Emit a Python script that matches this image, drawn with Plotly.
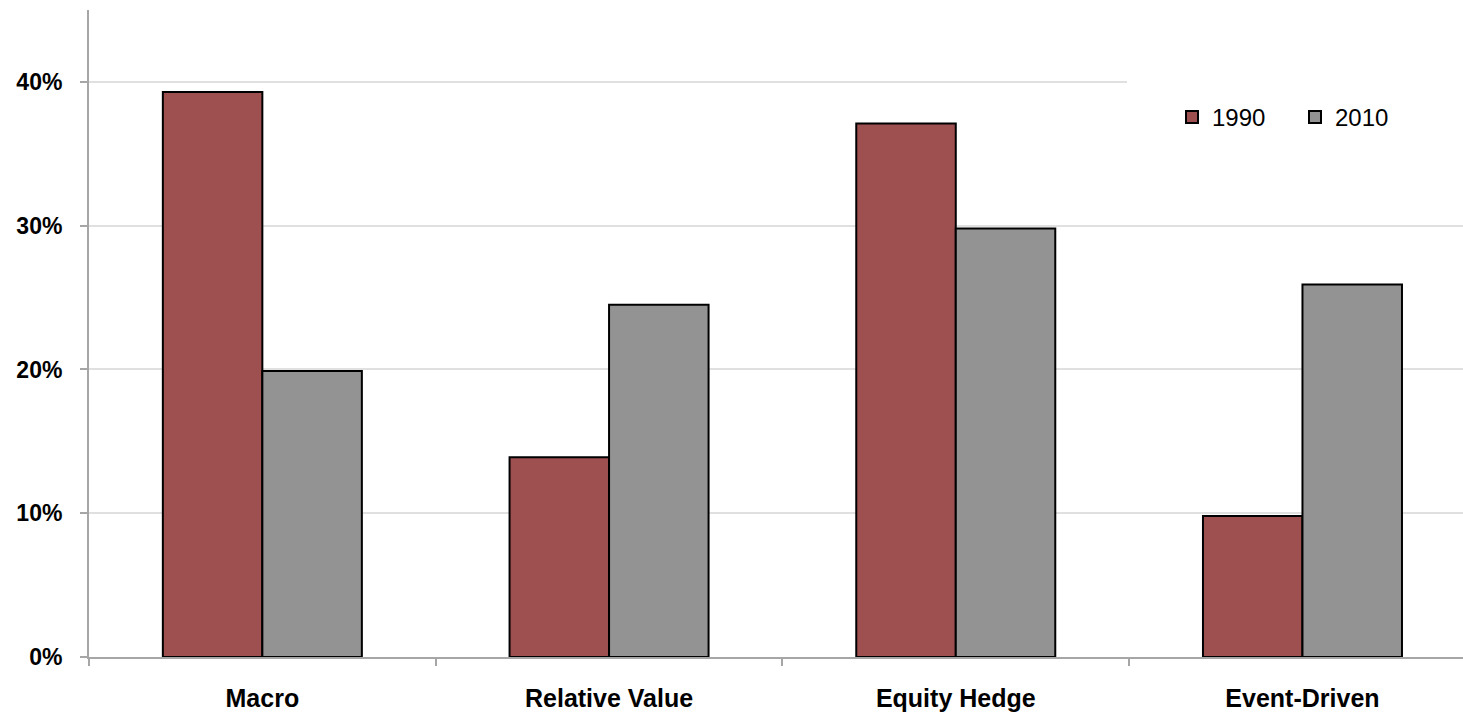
import plotly.graph_objects as go

categories = ["Macro", "Relative Value", "Equity Hedge", "Event-Driven"]
values_1990 = [0.393, 0.139, 0.371, 0.098]
values_2010 = [0.199, 0.245, 0.298, 0.259]
series_names = ["1990", "2010"]
y_tick_vals = [0, 0.1, 0.2, 0.3, 0.4]

FONT = "Liberation Sans"

fig = go.Figure()
fig.add_trace(go.Bar(
    name=series_names[0], x=categories, y=values_1990,
    marker=dict(color="#9E4F50", line=dict(color="#000000", width=2)),
))
fig.add_trace(go.Bar(
    name=series_names[1], x=categories, y=values_2010,
    marker=dict(color="#939393", line=dict(color="#000000", width=2)),
))

fig.update_layout(
    width=1463, height=712,
    margin=dict(l=89, r=0, t=10, b=55, autoexpand=False),
    paper_bgcolor="white", plot_bgcolor="white",
    barmode="group", bargap=0.426, bargroupgap=0,
    font=dict(family=FONT, color="#000000"),
    showlegend=True,
    legend=dict(
        orientation="h",
        x=(1127 - 89) / 1374, xanchor="left",
        y=(657 - 50) / 647, yanchor="top",
        bgcolor="white", bordercolor="white", borderwidth=45,
        font=dict(family=FONT, size=24, color="#000000"),
        entrywidth=78,
    ),
    xaxis=dict(
        type="category",
        range=[-0.5, 3.463],
        showline=True, linecolor="#a6a6a6", linewidth=2,
        ticks="outside", tickson="boundaries", ticklen=7,
        tickcolor="#a6a6a6", tickwidth=1.5,
        showgrid=False,
        tickfont=dict(family=FONT, size=25, color="#000000", weight="bold"),
        ticklabelstandoff=18,
    ),
    yaxis=dict(
        range=[0, 0.45],
        tickvals=y_tick_vals, tickformat=".0%",
        showline=True, linecolor="#a6a6a6", linewidth=2,
        ticks="outside", ticklen=7, tickcolor="#a6a6a6", tickwidth=1.5,
        showgrid=True, gridcolor="#e0e0e0", gridwidth=1.5,
        zeroline=False,
        tickfont=dict(family=FONT, size=23, color="#000000", weight="bold"),
        ticklabelstandoff=13,
    ),
)

fig.write_html("out.html")
